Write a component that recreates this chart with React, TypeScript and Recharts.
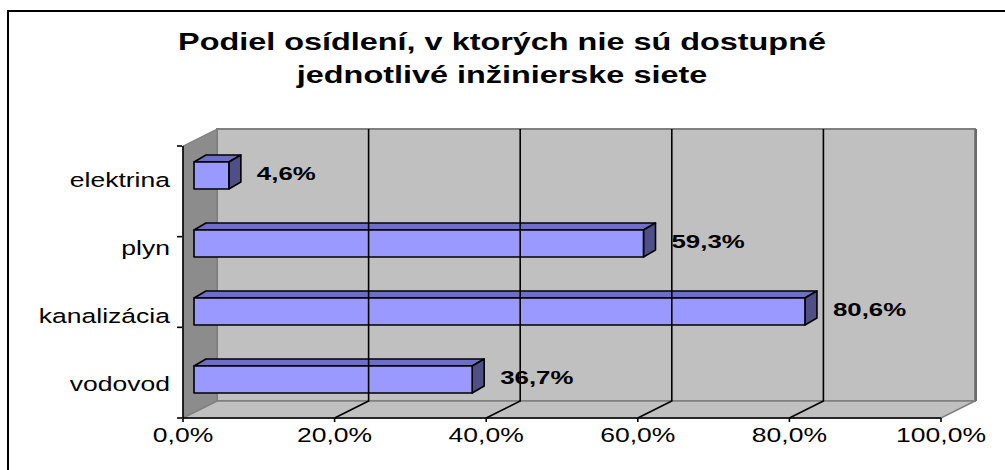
import React from 'react';
import { BarChart, Bar, XAxis, YAxis, ReferenceArea, ReferenceLine, LabelList } from 'recharts';

const categories = ['elektrina', 'plyn', 'kanalizácia', 'vodovod'];
const values = [4.6, 59.3, 80.6, 36.7];
const valueLabels = ['4,6%', '59,3%', '80,6%', '36,7%'];
const xTicks = [0, 20, 40, 60, 80, 100];
const xTickLabels = ['0,0%', '20,0%', '40,0%', '60,0%', '80,0%', '100,0%'];
const gridValues = [20, 40, 60, 80];
const bandEdges = [0, 1, 2, 3, 4];
const titleLines = ['Podiel osídlení, v ktorých nie sú dostupné', 'jednotlivé inžinierske siete'];

const data = categories.map((name, i) => ({ name, value: values[i], label: valueLabels[i] }));

const FONT = '"Liberation Sans", Arial, sans-serif';
const SX = 1.36;
const DX = 34;
const DY = -17;
const FX = 11;
const FY = -5;
const BD = 12;
const BDY = -7;

const Walls = (p: any) => {
  const { x, y, width, height } = p;
  const b = y + height;
  const r = x + width;
  return (
    <g>
      <polygon
        points={`${x + DX},${y + DY} ${r + DX},${y + DY} ${r + DX},${b + DY} ${x + DX},${b + DY}`}
        fill="#C0C0C0"
        stroke="#808080"
        strokeWidth={2}
      />
      <line x1={r + DX + 1} y1={y + DY} x2={r + DX + 1} y2={b + DY} stroke="#6a6a6a" strokeWidth={2} />
      <polygon
        points={`${x},${y} ${x + DX},${y + DY} ${x + DX},${b + DY} ${x},${b}`}
        fill="#8C8C8C"
        stroke="#7a7a7a"
        strokeWidth={1}
      />
      <polygon
        points={`${x},${b} ${x + DX},${b + DY} ${r + DX},${b + DY} ${r},${b}`}
        fill="#C0C0C0"
        stroke="#808080"
        strokeWidth={1.5}
      />
    </g>
  );
};

const GridShape = (p: any) => {
  const x = p.x1;
  const top = Math.min(p.y1, p.y2);
  const bot = Math.max(p.y1, p.y2);
  return (
    <polyline
      points={`${x + DX},${top + DY} ${x + DX},${bot + DY} ${x},${bot}`}
      fill="none"
      stroke="#000"
      strokeWidth={1.6}
    />
  );
};

const Bar3D = (p: any) => {
  const { x, y, width, height } = p;
  if (width == null || height == null) return null;
  const x0 = x + FX;
  const y0 = y + FY;
  const x1 = x0 + width;
  const y1 = y0 + height;
  return (
    <g stroke="#000" strokeWidth={1.6} strokeLinejoin="round">
      <polygon points={`${x0},${y0} ${x0 + BD},${y0 + BDY} ${x1 + BD},${y0 + BDY} ${x1},${y0}`} fill="#6E6EC4" />
      <polygon points={`${x1},${y0} ${x1 + BD},${y0 + BDY} ${x1 + BD},${y1 + BDY} ${x1},${y1}`} fill="#4F4F88" />
      <rect x={x0} y={y0} width={width} height={height} fill="#9999FF" />
    </g>
  );
};

const ValueLabel = (p: any) => {
  const vb = p.viewBox || p;
  const x = vb.x ?? p.x;
  const y = vb.y ?? p.y;
  const width = vb.width ?? p.width;
  const height = vb.height ?? p.height;
  const tx = x + width + FX + 28;
  const ty = y + height / 2 + FY + 4;
  return (
    <text
      transform={`translate(${tx},${ty}) scale(${SX},1)`}
      x={0}
      y={0}
      fontFamily={FONT}
      fontWeight="bold"
      fontSize={19}
      fill="#000"
    >
      {p.value}
    </text>
  );
};

const XTick = (p: any) => {
  const v = p.payload?.value;
  const idx = xTicks.indexOf(v);
  const label = idx >= 0 ? xTickLabels[idx] : String(v);
  return (
    <text
      transform={`translate(${p.payload?.coordinate ?? p.x},${p.y + 20}) scale(${SX},1)`}
      x={0}
      y={0}
      textAnchor="middle"
      fontFamily={FONT}
      fontSize={19.5}
      fill="#000"
    >
      {label}
    </text>
  );
};

const YTick = (p: any) => {
  return (
    <text
      transform={`translate(170,${p.payload?.coordinate ?? p.y}) scale(${SX},1)`}
      x={0}
      y={7}
      textAnchor="end"
      fontFamily={FONT}
      fontSize={19.5}
      fill="#000"
    >
      {p.payload?.value}
    </text>
  );
};

const EmptyTick = () => <g />;

export default function App() {
  return (
    <div style={{ position: 'absolute', left: 0, top: 0, width: 1005, height: 470, background: '#fff' }}>
      <BarChart
        width={1005}
        height={470}
        data={data}
        layout="vertical"
        margin={{ top: 146, right: 64, bottom: 51, left: 181 }}
        barSize={27}
      >
        <XAxis
          type="number"
          domain={[0, 100]}
          ticks={xTicks}
          height={1}
          tickSize={4}
          tickMargin={0}
          axisLine={{ stroke: '#000', strokeWidth: 1.6 }}
          tickLine={{ stroke: '#000', strokeWidth: 1.6 }}
          tick={<XTick />}
          interval={0}
        />
        <YAxis
          type="category"
          dataKey="name"
          width={1}
          axisLine={{ stroke: '#000', strokeWidth: 1.6 }}
          tickLine={false}
          tickMargin={0}
          tick={<YTick />}
          interval={0}
        />
        <YAxis
          yAxisId="edges"
          type="number"
          domain={[0, 4]}
          ticks={bandEdges}
          width={1}
          axisLine={false}
          tickSize={5}
          tickLine={{ stroke: '#000', strokeWidth: 1.6 }}
          tick={<EmptyTick />}
          interval={0}
        />
        <ReferenceArea x1={0} x2={100} shape={<Walls />} fillOpacity={1} />
        {gridValues.map((v) => (
          <ReferenceLine key={v} x={v} shape={<GridShape />} />
        ))}
        <Bar dataKey="value" shape={<Bar3D />} isAnimationActive={false}>
          <LabelList dataKey="label" content={<ValueLabel />} />
        </Bar>
      </BarChart>
      <svg
        width={1005}
        height={470}
        style={{ position: 'absolute', left: 0, top: 0, pointerEvents: 'none' }}
      >
        <path d="M 1012 11 H 8 V 480" fill="none" stroke="#000" strokeWidth={2} />
        <text
          transform={`translate(502,50) scale(1.35,1)`}
          x={0}
          y={0}
          textAnchor="middle"
          fontFamily={FONT}
          fontWeight="bold"
          fontSize={24}
          fill="#000"
        >
          {titleLines[0]}
        </text>
        <text
          transform={`translate(502,83) scale(1.35,1)`}
          x={0}
          y={0}
          textAnchor="middle"
          fontFamily={FONT}
          fontWeight="bold"
          fontSize={24}
          fill="#000"
        >
          {titleLines[1]}
        </text>
      </svg>
    </div>
  );
}
